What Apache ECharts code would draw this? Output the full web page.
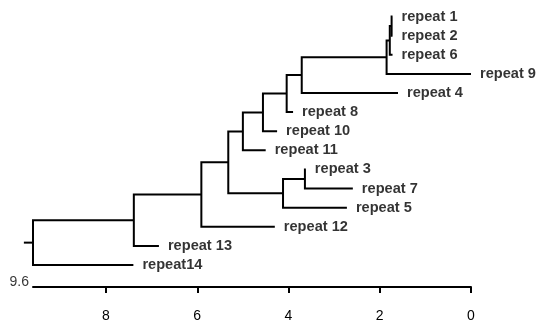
<!DOCTYPE html>
<html>
<head>
<meta charset="utf-8">
<script src="https://cdn.jsdelivr.net/npm/echarts@6/dist/echarts.min.js"></script>
<style>
html,body{margin:0;padding:0;background:#fff;}
#chart{width:540px;height:327px;}
</style>
</head>
<body>
<div id="chart"></div>
<script>
// Leaves in drawing order (top to bottom)
const leafNames = ['repeat 1','repeat 2','repeat 6','repeat 9','repeat 4','repeat 8','repeat 10','repeat 11','repeat 3','repeat 7','repeat 5','repeat 12','repeat 13','repeat14'];
// Distance at which each leaf branch ends
const leafHeights = [1.72, 1.72, 1.72, 0.0, 1.6, 3.9, 4.25, 4.5, 3.62, 2.59, 2.72, 4.3, 6.84, 7.4];
// Merges: [child A, child B, height]; ids >= 14 refer to earlier merges
const merges = [
  [0, 1, 1.74],
  [14, 2, 1.78],
  [15, 3, 1.85],
  [16, 4, 3.71],
  [17, 5, 4.04],
  [18, 6, 4.56],
  [19, 7, 5.0],
  [8, 9, 3.64],
  [21, 10, 4.12],
  [20, 22, 5.32],
  [23, 11, 5.91],
  [24, 12, 7.39],
  [25, 13, 9.6]
];
const rootStub = 9.8;
const tickValues = [0, 2, 4, 6, 8];
const axisMaxLabel = '9.6';
const axisMax = 9.6;

const FONT = '"Liberation Sans", Arial, sans-serif';

// Build node positions
const nodeH = leafHeights.slice();
const nodeY = leafNames.map((_, i) => i);
const segs = [];
merges.forEach(m => {
  const a = m[0], b = m[1], h = m[2];
  const ya = nodeY[a], yb = nodeY[b];
  nodeH.push(h);
  nodeY.push((ya + yb) / 2);
  segs.push([nodeH[a], ya, h, nodeH[b], yb]);
});
const rootId = nodeH.length - 1;
const stubSeg = [[nodeH[rootId], nodeY[rootId], rootStub, nodeY[rootId]]];

const yMin = -0.5, yMax = 14.15;

const chart = echarts.init(document.getElementById('chart'), null, {renderer: 'canvas'});
chart.setOption({
  backgroundColor: '#fff',
  animation: false,
  grid: {left: 33, right: 69, top: 7, bottom: 40, containLabel: false},
  xAxis: {
    type: 'value', inverse: true, min: 0, max: axisMax, interval: 2,
    position: 'bottom',
    axisLine: {onZero: false, lineStyle: {color: '#000', width: 2}},
    axisTick: {customValues: tickValues, length: 6, lineStyle: {color: '#000', width: 2}},
    axisLabel: {customValues: tickValues, color: '#000', fontSize: 14, margin: 22, fontFamily: FONT},
    splitLine: {show: false}
  },
  yAxis: {type: 'value', inverse: true, min: yMin, max: yMax, show: false, splitLine: {show: false}},
  series: [
    {
      type: 'custom', clip: false, silent: true,
      encode: {x: [0, 2, 3], y: [1, 4]},
      data: segs,
      renderItem: function (params, api) {
        const p1 = api.coord([api.value(0), api.value(1)]);
        const p2 = api.coord([api.value(2), api.value(1)]);
        const p3 = api.coord([api.value(2), api.value(4)]);
        const p4 = api.coord([api.value(3), api.value(4)]);
        return {type: 'polyline', shape: {points: [p1, p2, p3, p4]},
          style: {stroke: '#000', lineWidth: 2, fill: null, lineJoin: 'miter'}};
      }
    },
    {
      type: 'custom', clip: false, silent: true,
      encode: {x: [0, 2], y: [1, 3]},
      data: stubSeg,
      renderItem: function (params, api) {
        const p1 = api.coord([api.value(0), api.value(1)]);
        const p2 = api.coord([api.value(2), api.value(3)]);
        return {type: 'line', shape: {x1: p1[0], y1: p1[1], x2: p2[0], y2: p2[1]},
          style: {stroke: '#000', lineWidth: 2}};
      }
    },
    {
      type: 'scatter', clip: false, silent: true, symbolSize: 0,
      data: leafNames.map((n, i) => ({name: n, value: [leafHeights[i], i]})),
      label: {show: true, position: 'right', distance: 9, formatter: '{b}',
        color: '#000', fontSize: 14.6, fontWeight: 'bold', fontFamily: FONT}
    },
    {
      type: 'scatter', clip: false, silent: true, symbolSize: 0,
      data: [{name: axisMaxLabel, value: [axisMax, yMax]}],
      label: {show: true, position: 'left', distance: 4, offset: [0, -5], formatter: '{b}',
        color: '#000', fontSize: 14, fontFamily: FONT}
    }
  ]
});
</script>
</body>
</html>
